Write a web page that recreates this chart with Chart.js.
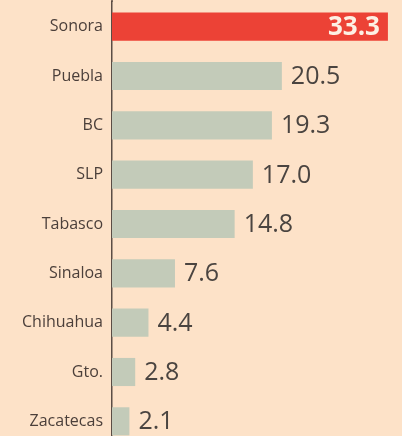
<!DOCTYPE html>
<html>
<head>
<meta charset="utf-8">
<script src="https://cdn.jsdelivr.net/npm/chart.js@4/dist/chart.umd.min.js"></script>
<style>
  html, body { margin: 0; padding: 0; background: #fde2c8; overflow: hidden; }
  canvas { display: block; }
</style>
</head>
<body>
<canvas id="c" width="402" height="446" style="width:402px;height:446px"></canvas>
<script>
const categories = ["Sonora", "Puebla", "BC", "SLP", "Tabasco", "Sinaloa", "Chihuahua", "Gto.", "Zacatecas"];
const values = [33.3, 20.5, 19.3, 17.0, 14.8, 7.6, 4.4, 2.8, 2.1];
const highlightIndex = 0;

const RED = "#ec4236";
const GREY = "#c3cbb9";
const AXIS = "#5b4d45";

const valueLabels = {
  id: "valueLabels",
  afterDatasetsDraw(chart) {
    const ctx = chart.ctx;
    const meta = chart.getDatasetMeta(0);
    ctx.save();
    ctx.textBaseline = "middle";
    meta.data.forEach((bar, i) => {
      const txt = values[i].toFixed(1);
      if (i === highlightIndex) {
        ctx.font = "bold 26px 'Open Sans'";
        ctx.fillStyle = "#fdf0e4";
        ctx.textAlign = "right";
        ctx.fillText(txt, bar.x - 8, bar.y + 1);
      } else {
        ctx.font = "25px 'Open Sans'";
        ctx.fillStyle = "#4a4440";
        ctx.textAlign = "left";
        ctx.fillText(txt, bar.x + 9, bar.y + 1);
      }
    });
    ctx.restore();
  }
};

// extend the axis line to the very top edge of the canvas
const axisExtend = {
  id: "axisExtend",
  afterDraw(chart) {
    const ctx = chart.ctx;
    const x = chart.scales.y.right;
    ctx.save();
    ctx.strokeStyle = AXIS;
    ctx.lineWidth = 1.5;
    ctx.beginPath();
    ctx.moveTo(x, 0);
    ctx.lineTo(x, chart.chartArea.top);
    ctx.stroke();
    ctx.restore();
  }
};

new Chart(document.getElementById("c"), {
  type: "bar",
  data: {
    labels: categories,
    datasets: [{
      data: values,
      backgroundColor: values.map((v, i) => i === highlightIndex ? RED : GREY),
      borderWidth: 0,
      barPercentage: 0.57,
      categoryPercentage: 1
    }]
  },
  options: {
    indexAxis: "y",
    responsive: false,
    maintainAspectRatio: false,
    animation: false,
    devicePixelRatio: 1,
    layout: { padding: { top: 2, right: 0, bottom: 0, left: 0 } },
    plugins: { legend: { display: false }, tooltip: { enabled: false } },
    scales: {
      x: {
        display: false,
        min: 0,
        max: 35
      },
      y: {
        afterFit(scale) {
          scale.width = 112;
          scale.paddingTop = 0;
          scale.paddingBottom = 0;
        },
        grid: { display: false, drawTicks: false },
        border: { display: true, color: AXIS, width: 1.5 },
        ticks: {
          color: "#4b3f3a",
          padding: 9,
          font: { family: "'Open Sans'", size: 16 }
        }
      }
    }
  },
  plugins: [valueLabels, axisExtend]
});
</script>
</body>
</html>
